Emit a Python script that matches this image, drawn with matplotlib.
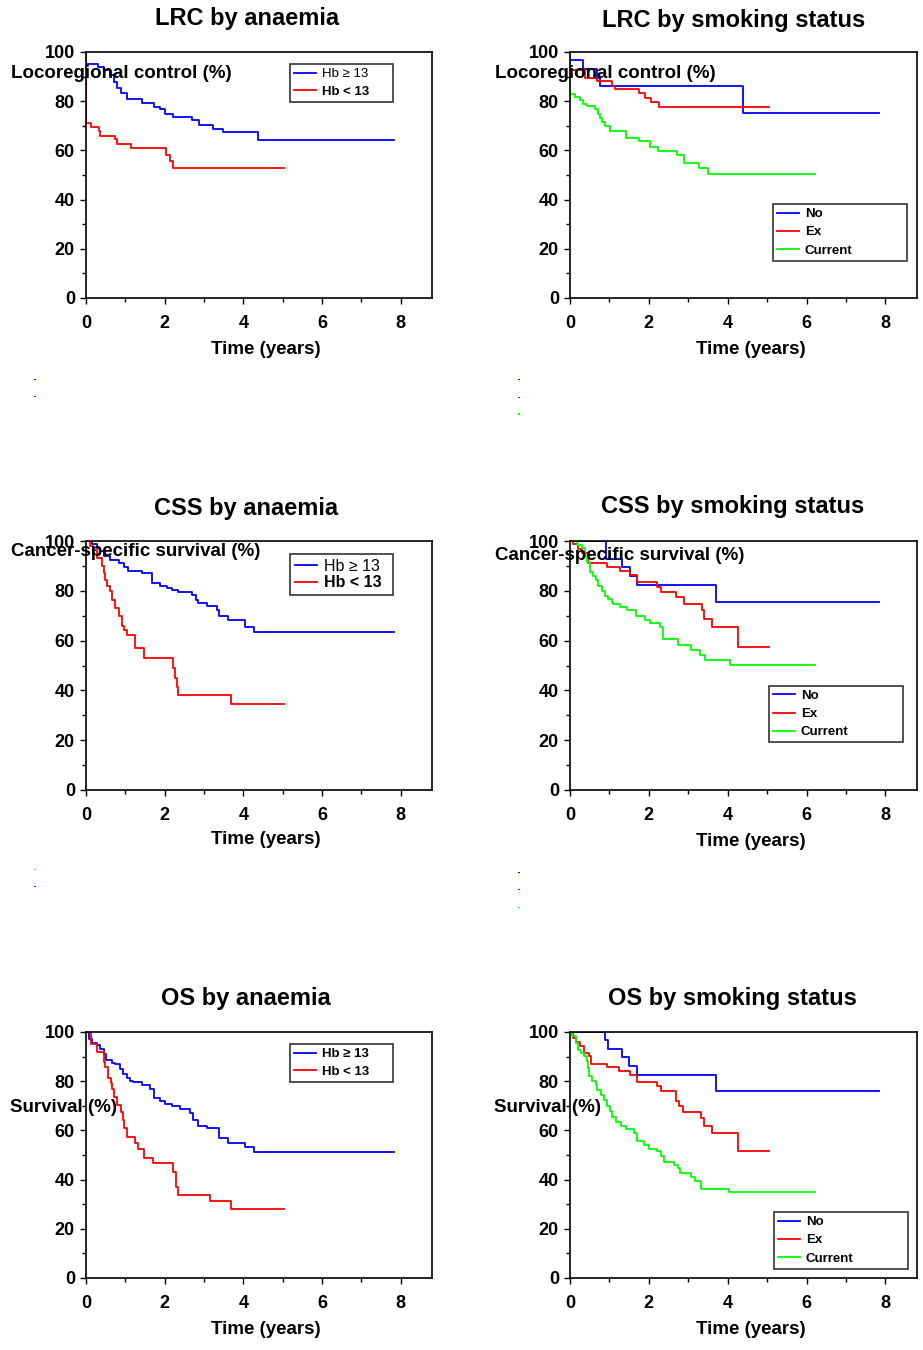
import numpy as np
import matplotlib.pyplot as plt
from matplotlib.patches import Rectangle

plt.rcParams['font.family'] = ['Liberation Sans', 'DejaVu Sans']
plt.rcParams['font.weight'] = 'bold'

BLUE = '#0000ff'
RED = '#ff0000'
GREEN = '#00ff00'

# --- LRC by anaemia ---
lrc_hi_t = [0, 0, 0.30, 0.45, 0.62, 0.72, 0.80, 0.88, 1.04, 1.42, 1.72, 1.89, 2.01, 2.22, 2.69, 2.88, 3.24, 3.49, 4.38, 7.83]
lrc_hi_s = [100, 95, 94, 92.5, 90.5, 88, 85.5, 83.5, 81, 79.3, 77.5, 76.7, 74.8, 73.6, 72.5, 70.2, 68.8, 67.3, 64.1, 64.1]
lrc_lo_t = [0, 0, 0.13, 0.32, 0.36, 0.74, 0.80, 1.14, 2.03, 2.14, 2.22, 5.03]
lrc_lo_s = [100, 71, 69.5, 68, 66, 64.5, 62.8, 60.8, 58, 55.5, 52.8, 52.8]

# --- LRC by smoking status ---
lrc_no_t = [0, 0, 0.34, 0.68, 0.75, 4.39, 7.83]
lrc_no_s = [100, 96.6, 93.2, 89.6, 86.2, 75.4, 75.4]
lrc_ex_t = [0, 0, 0.38, 0.68, 1.06, 1.14, 1.74, 1.91, 2.05, 2.26, 5.04]
lrc_ex_s = [100, 92.7, 89.6, 88.2, 86.2, 84.8, 83.2, 81.2, 79.7, 77.7, 77.7]
lrc_cur_t = [0, 0, 0.13, 0.25, 0.34, 0.42, 0.64, 0.72, 0.76, 0.81, 0.89, 1.02, 1.42, 1.76, 2.02, 2.24, 2.71, 2.88, 3.26, 3.50, 6.21]
lrc_cur_s = [100, 83.1, 81.9, 80.5, 78.8, 78.0, 76.7, 74.7, 73.0, 71.5, 70.0, 67.9, 65.2, 63.9, 61.2, 59.8, 58.0, 54.8, 52.8, 50.3, 50.3]

# --- CSS by anaemia ---
css_hi_t = [0, 0.15, 0.28, 0.36, 0.45, 0.62, 0.83, 0.96, 1.08, 1.42, 1.68, 1.89, 2.06, 2.18, 2.35, 2.69, 2.80, 2.86, 3.07, 3.32, 3.37, 3.62, 4.04, 4.27, 7.83]
css_hi_s = [100, 98.7, 97.3, 96, 94, 92.3, 91.2, 89.6, 88.0, 87.3, 83.2, 82.1, 81.1, 80.2, 79.4, 78.2, 76.4, 75.3, 73.7, 72.4, 69.7, 68.1, 65.6, 63.3, 63.3]
css_lo_t = [0, 0.11, 0.19, 0.28, 0.41, 0.45, 0.49, 0.53, 0.62, 0.66, 0.74, 0.83, 0.91, 0.96, 1.04, 1.25, 1.48, 2.22, 2.27, 2.31, 2.35, 3.68, 5.03]
css_lo_s = [100, 98, 96.4, 93.3, 90, 87, 84.5, 81.8, 79.8, 76.4, 73, 70, 66, 64.3, 62.3, 56.9, 53.1, 48.8, 45, 41.4, 38.3, 34.6, 34.6]

# --- CSS by smoking status ---
css_no_t = [0, 0.91, 1.33, 1.52, 1.69, 3.70, 7.83]
css_no_s = [100, 92.7, 89.6, 86, 82.4, 75.7, 75.7]
css_ex_t = [0, 0.08, 0.20, 0.30, 0.46, 0.93, 1.27, 1.52, 1.69, 2.20, 2.32, 2.69, 2.89, 3.34, 3.40, 3.61, 4.27, 5.05]
css_ex_s = [100, 98.7, 96.7, 95.3, 91.1, 89.6, 88, 86.4, 83.4, 81.4, 79.4, 77.4, 74.7, 72.1, 68.8, 65.4, 57.4, 57.4]
css_cur_t = [0, 0.17, 0.30, 0.38, 0.42, 0.51, 0.59, 0.66, 0.72, 0.80, 0.89, 0.97, 1.06, 1.10, 1.27, 1.44, 1.67, 1.90, 2.03, 2.28, 2.35, 2.74, 3.08, 3.29, 3.42, 4.05, 6.21]
css_cur_s = [100, 98.4, 97.1, 94, 91.4, 87.4, 86, 84.3, 82, 80, 78, 76.7, 75.4, 74.5, 73.4, 72.3, 70, 68.4, 67, 65.4, 60.8, 58.1, 56.1, 54.1, 52.4, 50.1, 50.1]

# --- OS by anaemia ---
os_hi_t = [0, 0.07, 0.15, 0.28, 0.36, 0.45, 0.52, 0.66, 0.74, 0.87, 0.94, 1.04, 1.12, 1.20, 1.42, 1.63, 1.72, 1.89, 2.01, 2.18, 2.39, 2.65, 2.73, 2.86, 3.09, 3.37, 3.62, 4.04, 4.27, 7.83]
os_hi_s = [100, 97.3, 95.5, 94.6, 93.2, 91.2, 88.5, 87.4, 86.9, 85.1, 83.1, 81.5, 80.1, 79.5, 78.4, 77, 73, 72, 70.7, 69.9, 68.9, 66.9, 64.2, 61.8, 60.8, 56.8, 55.0, 53.1, 51.1, 51.1]
os_lo_t = [0, 0.13, 0.28, 0.45, 0.49, 0.55, 0.63, 0.66, 0.70, 0.80, 0.89, 0.94, 0.97, 1.04, 1.25, 1.31, 1.48, 1.70, 2.22, 2.28, 2.33, 3.16, 3.68, 5.03]
os_lo_s = [100, 95.3, 91.9, 88, 85.8, 81.1, 79.1, 77, 73.6, 70.3, 67.6, 64.2, 60.8, 57.4, 54.7, 52.3, 48.9, 46.9, 43.2, 37, 33.8, 31.1, 28.1, 28.1]

# --- OS by smoking status ---
os_no_t = [0, 0.90, 0.96, 1.33, 1.49, 1.71, 3.69, 7.83]
os_no_s = [100, 96.6, 93.1, 89.8, 86.3, 82.7, 75.9, 75.9]
os_ex_t = [0, 0.08, 0.14, 0.25, 0.35, 0.48, 0.52, 0.95, 1.24, 1.52, 1.69, 2.21, 2.30, 2.70, 2.76, 2.87, 3.33, 3.40, 3.61, 4.27, 5.04]
os_ex_s = [100, 97.6, 95.8, 94.2, 91.5, 90.1, 87, 85.6, 84, 82.7, 79.5, 77.9, 76.2, 71.8, 69.8, 67.3, 65, 61.9, 58.9, 51.8, 51.8]
os_cur_t = [0, 0.06, 0.14, 0.20, 0.27, 0.35, 0.42, 0.46, 0.49, 0.57, 0.65, 0.69, 0.78, 0.86, 0.95, 1.01, 1.07, 1.16, 1.30, 1.41, 1.62, 1.71, 1.88, 2.00, 2.21, 2.30, 2.38, 2.64, 2.74, 2.80, 3.06, 3.18, 3.31, 4.03, 6.21]
os_cur_s = [100, 98.2, 95.5, 92.8, 91.5, 90.1, 88.1, 85.4, 82, 80, 78.6, 76.6, 74.5, 72.5, 69.8, 67.8, 65.5, 63.3, 61.9, 60.7, 58.9, 55.6, 54.2, 52.4, 51.5, 49.5, 47, 46.1, 44.7, 42.7, 41.1, 39.3, 36.2, 34.8, 34.8]

anaemia_labels = ['Hb \u2265 13', 'Hb < 13']
smoking_labels = ['No', 'Ex', 'Current']
titles = ['LRC by anaemia', 'LRC by smoking status',
          'CSS by anaemia', 'CSS by smoking status',
          'OS by anaemia', 'OS by smoking status']
ylabels = ['Locoregional control (%)', 'Cancer-specific survival (%)', 'Survival (%)']

W, H = 923, 1350
fig = plt.figure(figsize=(W / 100, H / 100), dpi=100)


def add_ax(x0, y0, x1, y1):
    ax = fig.add_axes([x0 / W, 1 - y1 / H, (x1 - x0) / W, (y1 - y0) / H])
    ax.set_xlim(0, 8.8)
    ax.set_ylim(0, 100)
    ax.set_xticks([0, 2, 4, 6, 8])
    ax.set_xticks([1, 3, 5, 7], minor=True)
    ax.set_yticks([0, 20, 40, 60, 80, 100])
    ax.set_yticks([10, 30, 50, 70, 90], minor=True)
    ax.tick_params(which='both', direction='out', width=1.0, labelsize=13)
    ax.tick_params(which='major', length=4)
    ax.tick_params(which='minor', length=3)
    ax.tick_params(axis='x', pad=8)
    ax.tick_params(axis='y', pad=4)
    for sp in ax.spines.values():
        sp.set_linewidth(1.2)
    return ax


def fig_text(x, y, s, **kw):
    fig.text(x / W, 1 - y / H, s, **kw)


def add_legend(ax, box, fs, spacing):
    # box = (x0, ytop, width) in axes fraction
    x0, ytop, w = box
    hl = 22 / (fs * 100 / 72)
    leg = ax.legend(loc='upper left', bbox_to_anchor=(x0, ytop - 0.01, w, 0.01),
                    mode='expand', borderaxespad=0, fancybox=False,
                    edgecolor='#333333', fontsize=fs, handlelength=hl,
                    handletextpad=0.45, labelspacing=spacing, borderpad=0.3,
                    framealpha=1)
    leg.get_frame().set_linewidth(1.2)
    return leg


lw = 1.3
rows = [(52, 298), (541, 790), (1032, 1278)]
lefts = (86, 432)
rights = (570, 917)

anaemia_data = [
    ((lrc_hi_t, lrc_hi_s), (lrc_lo_t, lrc_lo_s)),
    ((css_hi_t, css_hi_s), (css_lo_t, css_lo_s)),
    ((os_hi_t, os_hi_s), (os_lo_t, os_lo_s)),
]
smoking_data = [
    ((lrc_no_t, lrc_no_s), (lrc_ex_t, lrc_ex_s), (lrc_cur_t, lrc_cur_s)),
    ((css_no_t, css_no_s), (css_ex_t, css_ex_s), (css_cur_t, css_cur_s)),
    ((os_no_t, os_no_s), (os_ex_t, os_ex_s), (os_cur_t, os_cur_s)),
]

anaemia_leg = [((0.590, 0.951, 0.298), 9.5, 0.4, ['normal', 'bold']),
               ((0.590, 0.948, 0.298), 11.5, 0.1, ['normal', 'bold']),
               ((0.590, 0.951, 0.298), 9.5, 0.4, ['bold', 'bold'])]
smoking_leg = [((0.585, 0.382, 0.386), 9.5, 0.45),
               ((0.573, 0.418, 0.386), 9.5, 0.45),
               ((0.588, 0.268, 0.386), 9.5, 0.45)]

title_pos = [((247, 19), (734, 20)), ((246, 509), (733, 506)), ((246, 999), (732, 999))]
ylab_pos = [((11, 74), (495, 74)), ((11, 551), (495, 555)), ((10, 1107), (494, 1107))]
xlab_y = [(349, 349), (840, 842), (1329, 1329)]

for r, (top, bot) in enumerate(rows):
    # anaemia panel
    ax = add_ax(lefts[0], top, lefts[1], bot)
    for (t, s), c, lab in zip(anaemia_data[r], [BLUE, RED], anaemia_labels):
        ax.step(t, s, where='post', color=c, lw=lw, label=lab)
    box, fs, sp, weights = anaemia_leg[r]
    leg = add_legend(ax, box, fs, sp)
    for txt, wgt in zip(leg.get_texts(), weights):
        txt.set_fontweight(wgt)

    # smoking panel
    ax2 = add_ax(rights[0], top, rights[1], bot)
    for (t, s), c, lab in zip(smoking_data[r], [BLUE, RED, GREEN], smoking_labels):
        ax2.step(t, s, where='post', color=c, lw=lw, label=lab)
    box, fs, sp = smoking_leg[r]
    add_legend(ax2, box, fs, sp)

    (tl, tr) = title_pos[r]
    fig_text(*tl, titles[2 * r], ha='center', va='center', fontsize=17, fontweight='bold')
    fig_text(*tr, titles[2 * r + 1], ha='center', va='center', fontsize=17, fontweight='bold')
    (yl, yr) = ylab_pos[r]
    fig_text(*yl, ylabels[r], ha='left', va='center', fontsize=13.5, fontweight='bold')
    fig_text(*yr, ylabels[r], ha='left', va='center', fontsize=13.5, fontweight='bold')
    fig_text(266, xlab_y[r][0], 'Time (years)', ha='center', va='center', fontsize=13.5, fontweight='bold')
    fig_text(751, xlab_y[r][1], 'Time (years)', ha='center', va='center', fontsize=13.5, fontweight='bold')

# stray legend-key specks below the first two rows
specks = [(34, 380, BLUE), (34, 397, RED), (518, 380, BLUE), (518, 398, RED), (518, 415, GREEN),
          (34, 870, '#ff66cc'), (34, 887, RED), (518, 873, BLUE), (518, 890, RED), (518, 908, GREEN)]
for x, y, c in specks:
    fig.add_artist(Rectangle((x / W, 1 - y / H), 1.5 / W, 1.5 / H, transform=fig.transFigure,
                             color=c, lw=0))

fig.savefig('out.png', dpi=100, facecolor='white')
